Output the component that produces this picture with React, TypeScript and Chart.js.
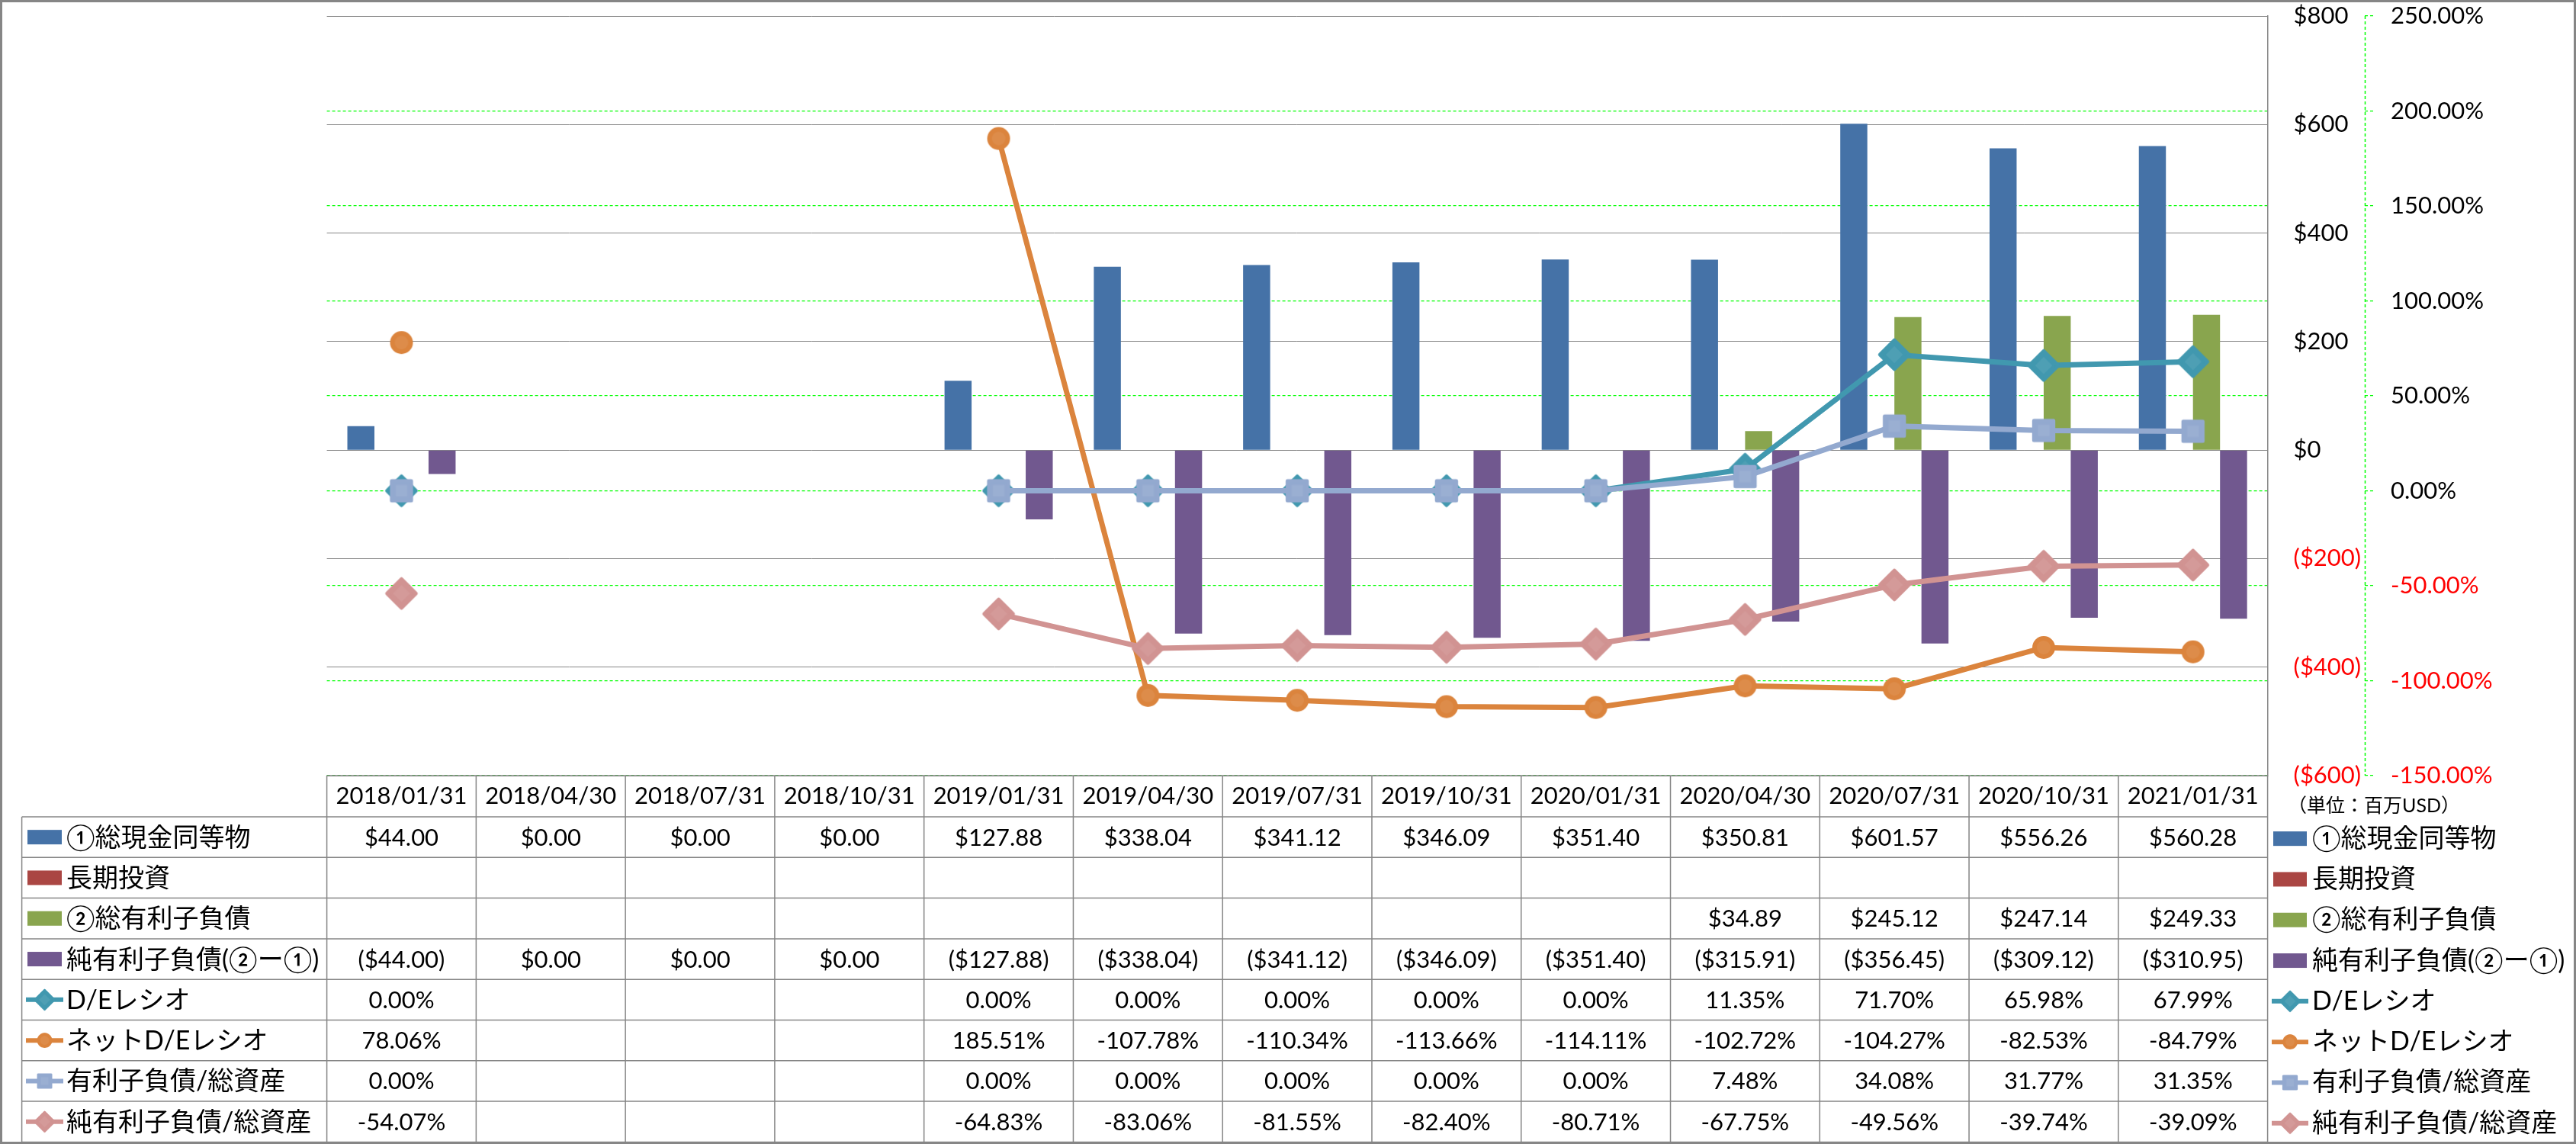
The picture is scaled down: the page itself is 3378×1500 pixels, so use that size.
import React, { useEffect, useRef } from 'react';
import { Chart, registerables } from 'chart.js';

Chart.register(...registerables);

// ---------------- data ----------------
const categories = [
  '2018/01/31', '2018/04/30', '2018/07/31', '2018/10/31', '2019/01/31', '2019/04/30',
  '2019/07/31', '2019/10/31', '2020/01/31', '2020/04/30', '2020/07/31', '2020/10/31', '2021/01/31',
];

// 百万USD
const cashEquivalents = [44.0, 0, 0, 0, 127.88, 338.04, 341.12, 346.09, 351.4, 350.81, 601.57, 556.26, 560.28];
const longTermInvestments: (number | null)[] = [null, null, null, null, null, null, null, null, null, null, null, null, null];
const totalDebt: (number | null)[] = [null, null, null, null, null, null, null, null, null, 34.89, 245.12, 247.14, 249.33];
const netDebt = [-44.0, 0, 0, 0, -127.88, -338.04, -341.12, -346.09, -351.4, -315.91, -356.45, -309.12, -310.95];

// %
const deRatio: (number | null)[] = [0.0, null, null, null, 0.0, 0.0, 0.0, 0.0, 0.0, 11.35, 71.7, 65.98, 67.99];
const netDeRatio: (number | null)[] = [78.06, null, null, null, 185.51, -107.78, -110.34, -113.66, -114.11, -102.72, -104.27, -82.53, -84.79];
const debtToAssets: (number | null)[] = [0.0, null, null, null, 0.0, 0.0, 0.0, 0.0, 0.0, 7.48, 34.08, 31.77, 31.35];
const netDebtToAssets: (number | null)[] = [-54.07, null, null, null, -64.83, -83.06, -81.55, -82.4, -80.71, -67.75, -49.56, -39.74, -39.09];

const seriesNames = [
  '①総現金同等物',
  '長期投資',
  '②総有利子負債',
  '純有利子負債(②ー①)',
  'D/Eレシオ',
  'ネットD/Eレシオ',
  '有利子負債/総資産',
  '純有利子負債/総資産',
];
const unitLabel = '（単位：百万USD）';

const moneyAxisMin = -600;
const moneyAxisMax = 800;
const moneyAxisStep = 200;
const percentAxisMin = -150;
const percentAxisMax = 250;
const percentAxisStep = 50;

// ---------------- styles ----------------
type SeriesStyle = { kind: 'bar' | 'line'; color: string; point?: 'diamond' | 'circle' | 'square' };
const seriesStyles: SeriesStyle[] = [
  { kind: 'bar', color: '#4572A7' },
  { kind: 'bar', color: '#AA4643' },
  { kind: 'bar', color: '#89A54E' },
  { kind: 'bar', color: '#71588F' },
  { kind: 'line', color: '#4198AF', point: 'diamond' },
  { kind: 'line', color: '#DB843D', point: 'circle' },
  { kind: 'line', color: '#93A9CF', point: 'square' },
  { kind: 'line', color: '#D19392', point: 'diamond' },
];
const seriesData = [cashEquivalents, longTermInvestments, totalDebt, netDebt, deRatio, netDeRatio, debtToAssets, netDebtToAssets];

const FONT_FAMILY = "Lato, 'Noto Sans CJK JP', sans-serif";
const NUM_FONT = `31px ${FONT_FAMILY}`;
const LABEL_FONT = `34px ${FONT_FAMILY}`;
const UNIT_FONT = `25px ${FONT_FAMILY}`;
const GRAY = '#868686';
const GREEN = '#00FF00';
const LINE_WIDTH = 7;

const fmtMoney = (v: number) => (v < 0 ? `($${Math.abs(v).toFixed(2)})` : `$${v.toFixed(2)}`);
const fmtPct = (v: number) => `${v.toFixed(2)}%`;

// marker images (rounded corners like the original)
function makeMarker(shape: string, color: string): HTMLCanvasElement {
  const size = 48;
  const c = document.createElement('canvas');
  c.width = size;
  c.height = size;
  const g = c.getContext('2d')!;
  const m = size / 2;
  g.fillStyle = color;
  g.strokeStyle = color;
  g.lineJoin = 'round';
  g.lineWidth = 5;
  const path = (k: number) => {
    g.beginPath();
    if (shape === 'circle') {
      g.arc(m, m, 15 * k, 0, Math.PI * 2);
    } else if (shape === 'diamond') {
      const r = 18.8 * k;
      g.moveTo(m - r, m);
      g.lineTo(m, m - r);
      g.lineTo(m + r, m);
      g.lineTo(m, m + r);
      g.closePath();
    } else {
      const h = 12.7 * k;
      g.rect(m - h, m - h, 2 * h, 2 * h);
    }
  };
  path(1);
  g.fill();
  if (shape !== 'circle') g.stroke();
  g.fillStyle = 'rgba(255,255,255,0.07)';
  path(0.6);
  g.fill();
  return c;
}

function drawLegendSymbol(ctx: CanvasRenderingContext2D, s: SeriesStyle, img: HTMLCanvasElement | null, x0: number, x1: number, cy: number) {
  ctx.save();
  ctx.setLineDash([]);
  if (s.kind === 'bar') {
    ctx.fillStyle = s.color;
    ctx.fillRect(x0, cy - 9.5, x1 - x0, 19);
  } else {
    ctx.strokeStyle = s.color;
    ctx.lineWidth = 6;
    ctx.beginPath();
    ctx.moveTo(x0 - 2, cy);
    ctx.lineTo(x1 + 2, cy);
    ctx.stroke();
    if (img) {
      const k = 0.66;
      const w = img.width * k;
      const h = img.height * k;
      ctx.drawImage(img, (x0 + x1) / 2 - w / 2, cy - h / 2, w, h);
    }
  }
  ctx.restore();
}

function makeTablePlugin(markerImages: (HTMLCanvasElement | null)[]) {
  return {
    id: 'dataTable',
    afterDraw(chart: any) {
      const ctx: CanvasRenderingContext2D = chart.ctx;
      const area = chart.chartArea;
      const xs = chart.scales.x;
      const n = categories.length;
      const colW = (area.right - area.left) / n;
      const top = area.bottom;
      const headerH = 54;
      const rowH = 53.3;
      const legendLeft = 28.6;
      const rows = seriesNames.length;
      const bottom = top + headerH + rows * rowH;

      ctx.save();
      ctx.strokeStyle = GRAY;
      ctx.lineWidth = 1.5;
      ctx.setLineDash([]);
      ctx.beginPath();
      ctx.moveTo(area.left, top);
      ctx.lineTo(area.right, top);
      for (let r = 0; r <= rows; r++) {
        const y = top + headerH + r * rowH;
        ctx.moveTo(legendLeft, y);
        ctx.lineTo(area.right, y);
      }
      for (let c = 0; c <= n; c++) {
        const x = area.left + c * colW;
        ctx.moveTo(x, top);
        ctx.lineTo(x, bottom);
      }
      ctx.moveTo(legendLeft, top + headerH);
      ctx.lineTo(legendLeft, bottom);
      ctx.stroke();

      ctx.fillStyle = '#000';
      ctx.textBaseline = 'middle';
      ctx.textAlign = 'center';
      ctx.font = NUM_FONT;
      categories.forEach((c, i) => ctx.fillText(c, xs.getPixelForValue(i), top + headerH / 2));

      seriesNames.forEach((name, r) => {
        const st = seriesStyles[r];
        const data = seriesData[r];
        const cy = top + headerH + r * rowH + rowH / 2;
        drawLegendSymbol(ctx, st, markerImages[r], 36, 81, cy);
        ctx.fillStyle = '#000';
        ctx.font = LABEL_FONT;
        ctx.textAlign = 'left';
        ctx.fillText(name, 87, cy + 1);
        ctx.font = NUM_FONT;
        ctx.textAlign = 'center';
        data.forEach((v, i) => {
          if (v === null || v === undefined) return;
          ctx.fillText(st.kind === 'bar' ? fmtMoney(v) : fmtPct(v), xs.getPixelForValue(i), cy + 1);
        });
        drawLegendSymbol(ctx, st, markerImages[r], 2981, 3025, cy + 2);
        ctx.fillStyle = '#000';
        ctx.font = LABEL_FONT;
        ctx.textAlign = 'left';
        ctx.fillText(name, 3032, cy + 2);
      });

      ctx.font = UNIT_FONT;
      ctx.textAlign = 'left';
      ctx.fillText(unitLabel, 3000, 1057);

      const y1 = chart.scales.y1;
      ctx.strokeStyle = GREEN;
      ctx.lineWidth = 1.5;
      ctx.setLineDash([4, 3]);
      ctx.beginPath();
      ctx.moveTo(Math.round(y1.left) + 0.5, area.top);
      ctx.lineTo(Math.round(y1.left) + 0.5, area.bottom);
      ctx.stroke();

      ctx.setLineDash([]);
      ctx.strokeStyle = GRAY;
      ctx.lineWidth = 3;
      ctx.strokeRect(1.5, 1.5, chart.width - 3, chart.height - 3);
      ctx.restore();
    },
  };
}

export default function App() {
  const ref = useRef<HTMLCanvasElement>(null);

  useEffect(() => {
    const canvas = ref.current;
    if (!canvas) return;
    Chart.defaults.font.family = FONT_FAMILY;

    const markerImages = seriesStyles.map((st) => (st.kind === 'line' && st.point ? makeMarker(st.point, st.color) : null));

    const datasets: any[] = seriesNames.map((name, i) => {
      const st = seriesStyles[i];
      if (st.kind === 'bar') {
        return {
          type: 'bar',
          label: name,
          data: seriesData[i],
          backgroundColor: st.color,
          borderWidth: 0,
          yAxisID: 'y',
          order: 10,
          categoryPercentage: 0.725,
          barPercentage: 1.0,
        };
      }
      return {
        type: 'line',
        label: name,
        data: seriesData[i],
        borderColor: st.color,
        backgroundColor: st.color,
        borderWidth: LINE_WIDTH,
        pointStyle: markerImages[i],
        pointRadius: 15,
        pointBackgroundColor: st.color,
        pointBorderColor: st.color,
        pointBorderWidth: 0,
        tension: 0,
        fill: false,
        spanGaps: false,
        yAxisID: 'y1',
        order: 8 - i,
      };
    });

    const noEdgePadding = (s: any, w: number) => {
      s.width = w;
      s.paddingTop = 0;
      s.paddingBottom = 0;
    };

    const chart = new Chart(canvas, {
      type: 'bar',
      data: { labels: categories, datasets },
      options: {
        animation: false,
        responsive: false,
        devicePixelRatio: 1,
        events: [],
        layout: { padding: { left: 428.6, right: 77, top: 21, bottom: 483 } },
        plugins: { legend: { display: false }, tooltip: { enabled: false } },
        scales: {
          x: { display: false, offset: true },
          y: {
            position: 'right',
            min: moneyAxisMin,
            max: moneyAxisMax,
            afterFit: (s: any) => noEdgePadding(s, 127.4),
            ticks: {
              stepSize: moneyAxisStep,
              padding: 34,
              font: { size: 31, family: FONT_FAMILY },
              color: (c: any) => (c.tick && c.tick.value < 0 ? '#FF0000' : '#000000'),
              callback: (v: any) => {
                const nv = Number(v);
                return nv < 0 ? `($${Math.abs(nv)})` : `$${nv}`;
              },
            },
            grid: { color: GRAY, lineWidth: 1, drawTicks: false, z: -1 },
            border: { display: true, color: GRAY, width: 1.5 },
          },
          y1: {
            position: 'right',
            min: percentAxisMin,
            max: percentAxisMax,
            afterFit: (s: any) => noEdgePadding(s, 200),
            ticks: {
              stepSize: percentAxisStep,
              padding: 22,
              font: { size: 31, family: FONT_FAMILY },
              color: (c: any) => (c.tick && c.tick.value < 0 ? '#FF0000' : '#000000'),
              callback: (v: any) => `${Number(v).toFixed(2)}%`,
            },
            grid: {
              color: (c: any) => (c.tick && c.tick.value === percentAxisMax ? 'rgba(0,0,0,0)' : GREEN),
              lineWidth: 1.2,
              drawTicks: true,
              tickLength: 12,
              tickColor: GREEN,
              tickBorderDash: [4, 3],
              z: -2,
            },
            border: { display: false, dash: [4, 3] },
          },
        },
      },
      plugins: [makeTablePlugin(markerImages)],
    } as any);

    return () => chart.destroy();
  }, []);

  return (
    <div style={{ position: 'absolute', left: 0, top: 0, width: 3378, height: 1500, background: '#ffffff' }}>
      <canvas ref={ref} width={3378} height={1500} style={{ display: 'block', width: 3378, height: 1500 }} />
    </div>
  );
}
